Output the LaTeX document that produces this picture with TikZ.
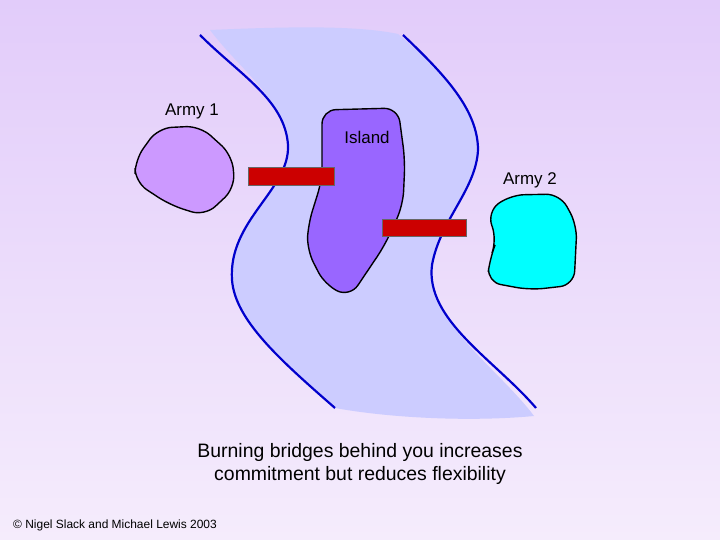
\documentclass[tikz,border=0pt]{standalone}
\usepackage{fontspec}
\setmainfont{Liberation Sans}
\definecolor{bgtop}{RGB}{226,204,250}
\definecolor{bgbot}{RGB}{245,236,252}
\definecolor{river}{RGB}{204,204,255}
\definecolor{bankc}{RGB}{0,0,204}
\definecolor{islandc}{RGB}{153,102,255}
\definecolor{army1c}{RGB}{204,153,255}
\definecolor{army2c}{RGB}{0,255,255}
\definecolor{bridgec}{RGB}{204,0,0}
\begin{document}
\begin{tikzpicture}[x=1bp,y=-1bp,
  blob/.style={draw=black,line width=1.4pt,rounded corners=14pt},
  bank/.style={draw=bankc,line width=2.2pt},
  bridge/.style={draw=black!60,fill=bridgec,line width=0.4pt},
  lbl/.style={font=\fontsize{17}{20}\selectfont}]
\shade[top color=bgtop,bottom color=bgbot] (0,0) rectangle (720,540);
\useasboundingbox (0,0) rectangle (720,540);
% river fill
\fill[river] (210,30) .. controls (300,26) and (360,26) .. (398,34)
  .. controls (440,70) and (480,110) .. (478,150) .. controls (476,190) and (440,220) .. (432,265)
  .. controls (425,320) and (500,370) .. (534,416) .. controls (470,422) and (390,418) .. (335,408)
  .. controls (280,360) and (235,320) .. (232,280) .. controls (228,220) and (290,190) .. (288,145)
  .. controls (285,100) and (240,70) .. (210,30) -- cycle;
\coordinate (l0) at (200,35); \coordinate (l1) at (335,408);
\coordinate (r0) at (403,35); \coordinate (r1) at (536,408);
\draw[bank] (l0) .. controls (240,75) and (285,100) .. (288,145) .. controls (290,190) and (228,220) .. (232,280) .. controls (235,320) and (280,360) .. (l1);
\draw[bank] (r0) .. controls (445,75) and (478,110) .. (478,150) .. controls (476,190) and (440,220) .. (432,265) .. controls (425,320) and (495,360) .. (r1);
% island
\draw[blob,fill=islandc] (322,110) -- (398,108) -- (405,160) -- (403,205) -- (385,245) -- (350,297) -- (325,285) -- (307,250) -- (308,225) -- (322,180) -- cycle;
% armies
\draw[blob,fill=army1c] (135,160) -- (158,128) -- (200,126) -- (232,155) -- (235,188) -- (205,216) -- (170,205) -- (135,182) -- cycle;
\draw[blob,fill=army2c] (487,212) -- (510,195) -- (560,194) -- (577,225) -- (574,285) -- (530,290) -- (487,282) -- (490,258) -- (497,240) -- cycle;
% bridges
\draw[bridge] (248,167) rectangle (334,185);
\draw[bridge] (382,219) rectangle (466,236);
\node[lbl] (a1) at (192,111) {Army 1};
\node[lbl] (is) at (367,137) {Island};
\node[lbl] (a2) at (530,180) {Army 2};
\node[font=\fontsize{19.5}{23}\selectfont,align=center] (cap) at (360,464) {Burning bridges behind you increases\\commitment but reduces flexibility};
\node[font=\fontsize{12}{14}\selectfont] (cr) at (115,525) {© Nigel Slack and Michael Lewis 2003};
\end{tikzpicture}
\end{document}
